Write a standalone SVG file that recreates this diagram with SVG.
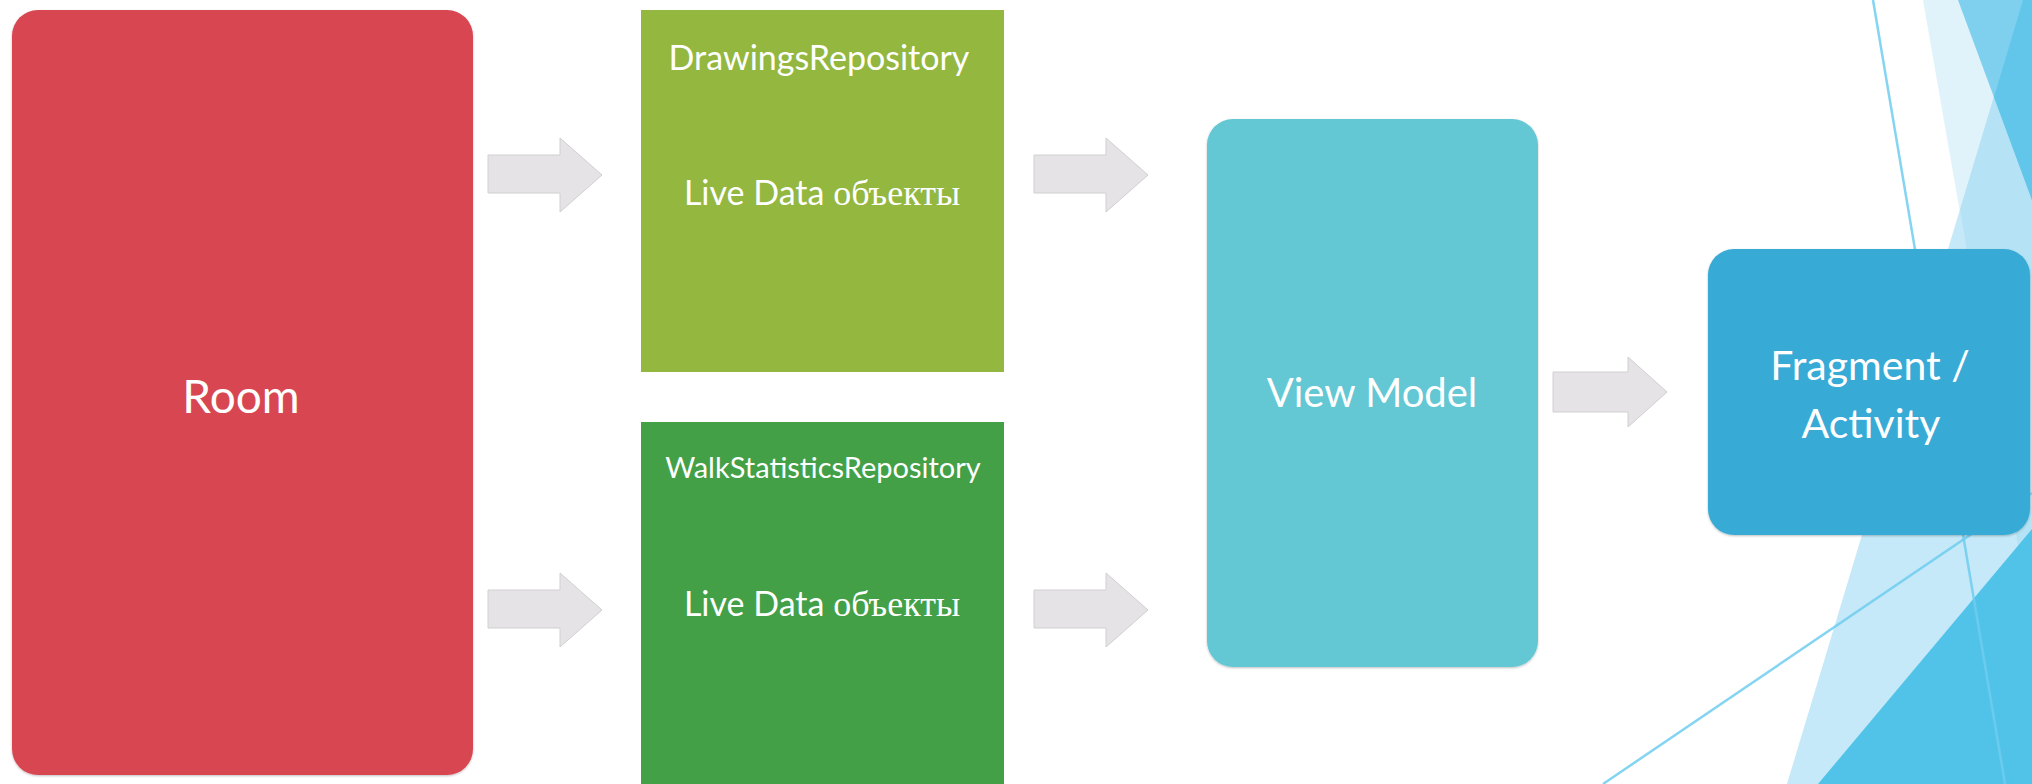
<svg xmlns="http://www.w3.org/2000/svg" width="2032" height="784" viewBox="0 0 2032 784">
  <defs>
    <style>
      .lbl { font-family: Lato, "Open Sans", "Liberation Sans", sans-serif; fill: #FFFFFF; text-anchor: middle; }
      .ru { font-family: "Liberation Serif", "DejaVu Serif", serif; }
      .arrow { fill: #E6E3E6; stroke: #D2CFD2; stroke-width: 1; }
      .bg-line { stroke: #6FCDF0; stroke-width: 2.5; fill: none; opacity: 0.85; }
    </style>
    <filter id="sh" x="-5%" y="-5%" width="110%" height="110%">
      <feDropShadow dx="0" dy="1" stdDeviation="1.2" flood-color="#000000" flood-opacity="0.25"/>
    </filter>
  </defs>

  <rect width="2032" height="784" fill="#FFFFFF"/>

  <!-- background facets -->
  <g id="background">
    <polygon points="1923,0 2032,0 2032,626" fill="#E0F2FA"/>
    <polygon points="2023,0 2032,0 2032,784 1787,784" fill="#C5E9F8"/>
    <polygon points="2023,0 2032,0 2032,626 1960,210" fill="#B5E3F5"/>
    <polygon points="1958,0 2032,0 2032,200" fill="#7FD0EF"/>
    <polygon points="2023,0 2032,0 2032,200 1994,97" fill="#62C6EA"/>
    <polygon points="2032,529 2032,784 1818,784" fill="#52C3E8"/>
    <line class="bg-line" x1="1873" y1="0" x2="2005" y2="784"/>
    <line class="bg-line" x1="1603" y1="784" x2="2032" y2="493"/>
  </g>

  <!-- connectors -->
  <g id="connectors">
    <polygon class="arrow" points="488,155 560,155 560,138 602,175 560,212 560,193 488,193"/>
    <polygon class="arrow" points="488,590 560,590 560,573 602,610 560,647 560,628 488,628"/>
    <polygon class="arrow" points="1034,155 1106,155 1106,138 1148,175 1106,212 1106,193 1034,193"/>
    <polygon class="arrow" points="1034,590 1106,590 1106,573 1148,610 1106,647 1106,628 1034,628"/>
    <polygon class="arrow" points="1553,372 1628,372 1628,357 1667,392 1628,427 1628,412 1553,412"/>
  </g>

  <g id="room">
    <rect x="12" y="10" width="461" height="765" rx="26" fill="#D84751" filter="url(#sh)"/>
    <text class="lbl" x="241" y="413" font-size="46">Room</text>
  </g>

  <g id="drawings-repository">
    <rect x="641" y="10" width="363" height="362" fill="#93B73F"/>
    <text class="lbl" x="819" y="70" font-size="34">DrawingsRepository</text>
    <text class="lbl" x="822" y="205" font-size="34">Live Data <tspan class="ru" font-size="36">объекты</tspan></text>
  </g>

  <g id="walk-statistics-repository">
    <rect x="641" y="422" width="363" height="362" fill="#43A047"/>
    <text class="lbl" x="823" y="478" font-size="29">WalkStatisticsRepository</text>
    <text class="lbl" x="822" y="616" font-size="34">Live Data <tspan class="ru" font-size="36">объекты</tspan></text>
  </g>

  <g id="view-model">
    <rect x="1207" y="119" width="331" height="548" rx="26" fill="#63C7D4" filter="url(#sh)"/>
    <text class="lbl" x="1372" y="407" font-size="40">View Model</text>
  </g>

  <g id="fragment-activity">
    <rect x="1708" y="249" width="322" height="286" rx="26" fill="#37AAD6" filter="url(#sh)"/>
    <text class="lbl" x="1870" y="380" font-size="41">Fragment /</text>
    <text class="lbl" x="1871" y="438" font-size="41">Activity</text>
  </g>
</svg>
